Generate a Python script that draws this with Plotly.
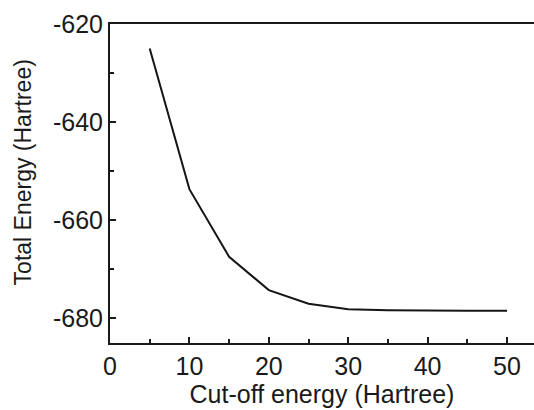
import plotly.graph_objects as go

cutoff = [5, 10, 15, 20, 25, 30, 35, 40, 45, 50]
energy = [-625.0, -653.7, -667.5, -674.3, -677.1, -678.2, -678.4, -678.5, -678.5, -678.5]

x_ticks = [0, 10, 20, 30, 40, 50]
y_ticks = [-620, -640, -660, -680]
y_tick_text = ["-620", "-640", "-660", "-680"]

fig = go.Figure()
fig.add_trace(go.Scatter(x=cutoff, y=energy, mode="lines",
                         line=dict(color="#151515", width=2), showlegend=False))

font = dict(family="Liberation Sans, Arial, sans-serif", size=25, color="#1a1a1a")

fig.update_layout(
    width=534, height=410,
    margin=dict(l=110, r=0, t=24, b=67),
    paper_bgcolor="white", plot_bgcolor="white",
    font=font,
)
fig.update_xaxes(
    range=[0, 53.4], tickvals=x_ticks, ticks="inside", ticklen=6, tickwidth=2,
    tickcolor="#1a1a1a", showline=True, linecolor="#1a1a1a", linewidth=2,
    mirror=True, showgrid=False, zeroline=False, automargin=False,
    minor=dict(tickvals=[5, 15, 25, 35, 45], ticks="inside", ticklen=4, tickwidth=1.5, tickcolor="#1a1a1a"),
    title=dict(text="Cut-off energy (Hartree)", font=dict(size=25), standoff=4),
    ticklabelstandoff=0,
)
fig.update_yaxes(
    range=[-685.1, -620], tickvals=y_ticks, ticktext=y_tick_text, ticks="inside", ticklen=6, tickwidth=2,
    tickcolor="#1a1a1a", showline=True, linecolor="#1a1a1a", linewidth=2,
    mirror=False, showgrid=False, zeroline=False, automargin=False,
    minor=dict(tickvals=[-630, -650, -670], ticks="inside", ticklen=4, tickwidth=1.5, tickcolor="#1a1a1a"),
)
fig.add_annotation(
    text="Total Energy (Hartree)", textangle=-90, showarrow=False,
    xref="paper", yref="paper", x=-0.205, y=0.535, xanchor="center", yanchor="middle",
    font=dict(size=23),
)

fig.write_html("out.html")
